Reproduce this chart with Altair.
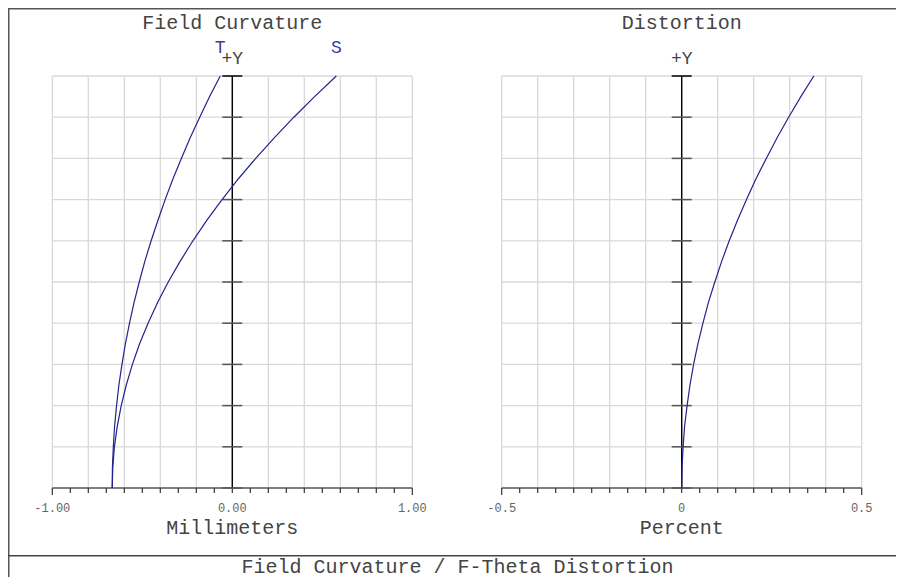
import altair as alt
import pandas as pd

# ---------------- data ----------------
field = [0.00, 0.05, 0.10, 0.15, 0.20, 0.25, 0.30, 0.35, 0.40, 0.45, 0.50,
         0.55, 0.60, 0.65, 0.70, 0.75, 0.80, 0.85, 0.90, 0.95, 1.00]
tangential = [-0.667, -0.666, -0.661, -0.654, -0.643, -0.630, -0.613, -0.594, -0.571, -0.546, -0.517,
              -0.486, -0.451, -0.413, -0.373, -0.330, -0.283, -0.234, -0.181, -0.126, -0.067]
sagittal = [-0.667, -0.664, -0.655, -0.639, -0.617, -0.589, -0.555, -0.515, -0.468, -0.415, -0.356,
            -0.290, -0.219, -0.141, -0.057, 0.033, 0.130, 0.233, 0.342, 0.457, 0.578]
distortion = [0.000, 0.001, 0.004, 0.008, 0.015, 0.023, 0.033, 0.045, 0.059, 0.074, 0.092,
              0.111, 0.132, 0.155, 0.180, 0.206, 0.235, 0.265, 0.297, 0.331, 0.367]

fc_grid = [-1.0, -0.8, -0.6, -0.4, -0.2, 0.0, 0.2, 0.4, 0.6, 0.8, 1.0]
fc_ticks = [-1.0, -0.9, -0.8, -0.7, -0.6, -0.5, -0.4, -0.3, -0.2, -0.1, 0.0,
            0.1, 0.2, 0.3, 0.4, 0.5, 0.6, 0.7, 0.8, 0.9, 1.0]
fc_label_vals = [-1.0, 0.0, 1.0]
fc_label_text = ["-1.00", "0.00", "1.00"]

dist_grid = [-0.5, -0.4, -0.3, -0.2, -0.1, 0.0, 0.1, 0.2, 0.3, 0.4, 0.5]
dist_ticks = [-0.5, -0.45, -0.4, -0.35, -0.3, -0.25, -0.2, -0.15, -0.1, -0.05, 0.0,
              0.05, 0.1, 0.15, 0.2, 0.25, 0.3, 0.35, 0.4, 0.45, 0.5]
dist_label_vals = [-0.5, 0.0, 0.5]
dist_label_text = ["-0.5", "0", "0.5"]

field_grid = [0.1, 0.2, 0.3, 0.4, 0.5, 0.6, 0.7, 0.8, 0.9, 1.0]
field_ticks = [0.0, 0.1, 0.2, 0.3, 0.4, 0.5, 0.6, 0.7, 0.8, 0.9]

FONT = "Liberation Mono"
CURVE = "#23238a"
LABEL_BLUE = "#3a3aa0"
TEXT = "#444444"

YS = alt.Scale(domain=[0, 1], range=[480, 68], nice=False, zero=False)
PX_PER_FIELD = 412.0


def panel(xmin, xmax, rng, grid, ticks, lab_vals, lab_text, title, xtitle, curves, curve_labels):
    xs = alt.Scale(domain=[xmin, xmax], range=rng, nice=False, zero=False)
    px_per_x = (rng[1] - rng[0]) / (xmax - xmin)
    X = lambda f: alt.X(f, type="quantitative", scale=xs, axis=None)
    Y = lambda f: alt.Y(f, type="quantitative", scale=YS, axis=None)

    vgrid = alt.Chart(pd.DataFrame({"x": grid, "y0": 0.0, "y1": 1.0})).mark_rule(
        color="#d9d9d9", strokeWidth=1.3).encode(x=X("x"), y=Y("y0"), y2="y1")
    hgrid = alt.Chart(pd.DataFrame({"y": field_grid, "x0": xmin, "x1": xmax})).mark_rule(
        color="#d9d9d9", strokeWidth=1.3).encode(y=Y("y"), x=X("x0"), x2="x1")
    baseline = alt.Chart(pd.DataFrame({"y": [0.0], "x0": [xmin], "x1": [xmax]})).mark_rule(
        color="#555555", strokeWidth=1.5).encode(y=Y("y"), x=X("x0"), x2="x1")
    tick_len = [(7.0 if t in (xmin, xmax) else 5.0) / PX_PER_FIELD for t in ticks]
    bticks = alt.Chart(pd.DataFrame({"x": ticks, "y0": 0.0, "y1": [-l for l in tick_len]})).mark_rule(
        color="#333333", strokeWidth=1.2).encode(x=X("x"), y=Y("y0"), y2="y1")
    half = 10.0 / px_per_x
    cticks = alt.Chart(pd.DataFrame({"y": field_ticks, "x0": -half, "x1": half})).mark_rule(
        color="#555555", strokeWidth=1.5).encode(y=Y("y"), x=X("x0"), x2="x1")
    ctop = alt.Chart(pd.DataFrame({"y": [1.0], "x0": [-half], "x1": [half]})).mark_rule(
        color="#000000", strokeWidth=1.5).encode(y=Y("y"), x=X("x0"), x2="x1")
    caxis = alt.Chart(pd.DataFrame({"x": [0.0], "y0": [0.0], "y1": [1.0]})).mark_rule(
        color="#000000", strokeWidth=1.4).encode(x=X("x"), y=Y("y0"), y2="y1")

    lines = alt.Chart(curves).mark_line(color=CURVE, strokeWidth=1.2).encode(
        x=X("value"), y=Y("field"), detail="series:N", order="field:Q")

    labels = alt.Chart(pd.DataFrame({"x": lab_vals, "t": lab_text})).mark_text(
        font=FONT, fontSize=12, color="#666666", baseline="alphabetic").encode(
        x=X("x"), y=alt.value(504), text="t:N")
    ttl = alt.Chart(pd.DataFrame({"x": [0.0], "t": [title]})).mark_text(
        font=FONT, fontSize=20, color=TEXT, baseline="alphabetic").encode(
        x=X("x"), y=alt.value(20.5), text="t:N")
    plusy = alt.Chart(pd.DataFrame({"x": [0.0], "t": ["+Y"]})).mark_text(
        font=FONT, fontSize=18, color=TEXT, baseline="alphabetic").encode(
        x=X("x"), y=alt.value(55.5), text="t:N")
    xt = alt.Chart(pd.DataFrame({"x": [0.0], "t": [xtitle]})).mark_text(
        font=FONT, fontSize=20, color=TEXT, baseline="alphabetic").encode(
        x=X("x"), y=alt.value(526), text="t:N")

    layers = [vgrid, hgrid, baseline, bticks, caxis, cticks, ctop, lines, labels, ttl, plusy, xt]
    if curve_labels is not None:
        cl = alt.Chart(curve_labels).mark_text(
            font=FONT, fontSize=18, color=LABEL_BLUE, baseline="alphabetic").encode(
            x=X("x"), y=alt.value(44.5), text="t:N")
        layers.append(cl)
    return alt.layer(*layers)


fc_df = pd.DataFrame({
    "field": field + field,
    "value": tangential + sagittal,
    "series": ["T"] * len(field) + ["S"] * len(field),
})
fc_lab = pd.DataFrame({"x": [tangential[-1], sagittal[-1]], "t": ["T", "S"]})
dist_df = pd.DataFrame({"field": field, "value": distortion, "series": ["D"] * len(field)})

left = panel(-1.0, 1.0, [44.3, 404.3], fc_grid, fc_ticks, fc_label_vals, fc_label_text,
             "Field Curvature", "Millimeters", fc_df, fc_lab)
right = panel(-0.5, 0.5, [493.7, 853.7], dist_grid, dist_ticks, dist_label_vals, dist_label_text,
              "Distortion", "Percent", dist_df, None)

# frame (top edge, left edge, separator above the caption) as thin filled bars, and the caption
frame_df = pd.DataFrame({"k": [0]})
frame_top = alt.Chart(frame_df).mark_rect(color="#555555", strokeWidth=0).encode(
    x=alt.value(0), x2=alt.value(888), y=alt.value(0), y2=alt.value(1.5))
frame_left = alt.Chart(frame_df).mark_rect(color="#555555", strokeWidth=0).encode(
    x=alt.value(0), x2=alt.value(1.5), y=alt.value(0), y2=alt.value(569))
frame_sep = alt.Chart(frame_df).mark_rect(color="#444444", strokeWidth=0).encode(
    x=alt.value(0), x2=alt.value(888), y=alt.value(547), y2=alt.value(548.6))
caption = alt.Chart(pd.DataFrame({"t": ["Field Curvature / F-Theta Distortion"]})).mark_text(
    font=FONT, fontSize=20, color=TEXT, baseline="alphabetic").encode(
    x=alt.value(449.5), y=alt.value(565.3), text="t:N")

chart = alt.layer(left, right, frame_top, frame_left, frame_sep, caption).resolve_scale(
    x="independent"
).properties(
    width=888, height=569, autosize=alt.AutoSizeParams(type="none"), padding=0
).configure_view(strokeWidth=0, stroke="transparent")

chart.save("out.html", embed_options={"renderer": "svg", "actions": False})
